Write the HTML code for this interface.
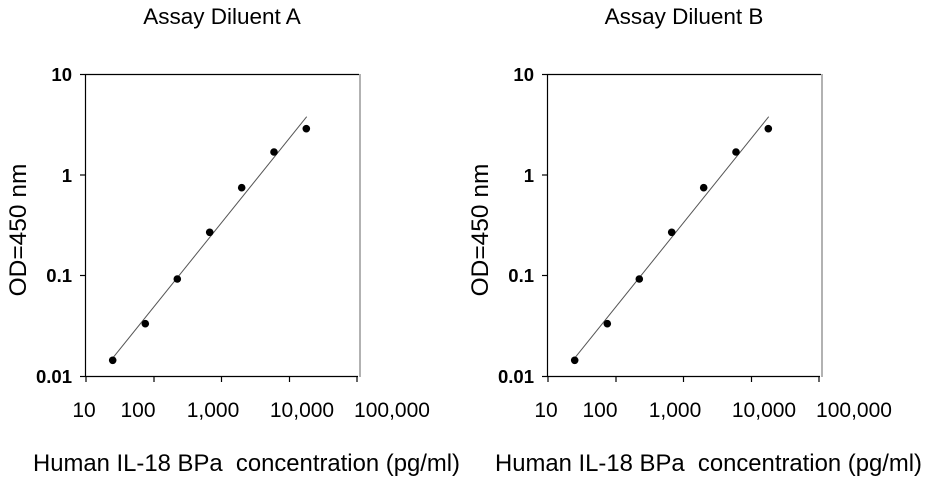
<!DOCTYPE html>
<html><head><style>body{margin:0;background:#fff}svg{display:block}text{font-family:"Liberation Sans",Arial,sans-serif;fill:#000}</style></head>
<body>
<svg width="926" height="480" viewBox="0 0 926 480" xmlns="http://www.w3.org/2000/svg">
<g id="A">
  <text x="222" y="24" font-size="22.5" text-anchor="middle">Assay Diluent A</text>
  <line x1="360" y1="74" x2="360" y2="377" stroke="#999" stroke-width="1.5"/>
  <line x1="85" y1="74.5" x2="359" y2="74.5" stroke="#000" stroke-width="1.2"/>
  <line x1="85.5" y1="74" x2="85.5" y2="377" stroke="#000" stroke-width="1.2"/>
  <line x1="85" y1="376.5" x2="358" y2="376.5" stroke="#000" stroke-width="1.2"/>
  <g stroke="#000" stroke-width="1.2">
    <line x1="80" y1="74.5" x2="85" y2="74.5"/><line x1="80" y1="175" x2="85" y2="175"/>
    <line x1="80" y1="275.5" x2="85" y2="275.5"/><line x1="80" y1="376.5" x2="85" y2="376.5"/>
    <line x1="86" y1="376" x2="86" y2="382"/><line x1="154" y1="376" x2="154" y2="382"/>
    <line x1="221.5" y1="376" x2="221.5" y2="382"/><line x1="289.5" y1="376" x2="289.5" y2="382"/>
    <line x1="357" y1="376" x2="357" y2="382"/>
  </g>
  <g font-size="18.5" font-weight="bold" text-anchor="end">
    <text x="72" y="81">10</text><text x="72" y="182">1</text>
    <text x="72" y="282">0.1</text><text x="72" y="383">0.01</text>
  </g>
  <g font-size="21" text-anchor="middle">
    <text x="84" y="417">10</text><text x="138" y="417">100</text><text x="213" y="417">1,000</text>
    <text x="302" y="417">10,000</text><text x="392" y="417">100,000</text>
  </g>
  <text x="33" y="471" font-size="24" textLength="427" lengthAdjust="spacingAndGlyphs" xml:space="preserve">Human IL-18 BPa  concentration (pg/ml)</text>
  <text transform="translate(26,230) rotate(-90)" font-size="24.5" text-anchor="middle">OD=450 nm</text>
  <line x1="113" y1="357.7" x2="306.7" y2="116.7" stroke="#555" stroke-width="1"/>
  <g fill="#000">
    <circle cx="112.7" cy="360.3" r="3.8"/><circle cx="145.3" cy="323.7" r="3.8"/>
    <circle cx="177.3" cy="279" r="3.8"/><circle cx="209.7" cy="232.3" r="3.8"/>
    <circle cx="241.7" cy="187.7" r="3.8"/><circle cx="274" cy="152" r="3.8"/>
    <circle cx="306.3" cy="128.7" r="3.8"/>
  </g>
</g>
<g transform="translate(462,0)">
  <text x="222" y="24" font-size="22.5" text-anchor="middle">Assay Diluent B</text>
  <line x1="360" y1="74" x2="360" y2="377" stroke="#999" stroke-width="1.5"/>
  <line x1="85" y1="74.5" x2="359" y2="74.5" stroke="#000" stroke-width="1.2"/>
  <line x1="85.5" y1="74" x2="85.5" y2="377" stroke="#000" stroke-width="1.2"/>
  <line x1="85" y1="376.5" x2="358" y2="376.5" stroke="#000" stroke-width="1.2"/>
  <g stroke="#000" stroke-width="1.2">
    <line x1="80" y1="74.5" x2="85" y2="74.5"/><line x1="80" y1="175" x2="85" y2="175"/>
    <line x1="80" y1="275.5" x2="85" y2="275.5"/><line x1="80" y1="376.5" x2="85" y2="376.5"/>
    <line x1="86" y1="376" x2="86" y2="382"/><line x1="154" y1="376" x2="154" y2="382"/>
    <line x1="221.5" y1="376" x2="221.5" y2="382"/><line x1="289.5" y1="376" x2="289.5" y2="382"/>
    <line x1="357" y1="376" x2="357" y2="382"/>
  </g>
  <g font-size="18.5" font-weight="bold" text-anchor="end">
    <text x="72" y="81">10</text><text x="72" y="182">1</text>
    <text x="72" y="282">0.1</text><text x="72" y="383">0.01</text>
  </g>
  <g font-size="21" text-anchor="middle">
    <text x="84" y="417">10</text><text x="138" y="417">100</text><text x="213" y="417">1,000</text>
    <text x="302" y="417">10,000</text><text x="392" y="417">100,000</text>
  </g>
  <text x="33" y="471" font-size="24" textLength="427" lengthAdjust="spacingAndGlyphs" xml:space="preserve">Human IL-18 BPa  concentration (pg/ml)</text>
  <text transform="translate(26,230) rotate(-90)" font-size="24.5" text-anchor="middle">OD=450 nm</text>
  <line x1="113" y1="357.7" x2="306.7" y2="116.7" stroke="#555" stroke-width="1"/>
  <g fill="#000">
    <circle cx="112.7" cy="360.3" r="3.8"/><circle cx="145.3" cy="323.7" r="3.8"/>
    <circle cx="177.3" cy="279" r="3.8"/><circle cx="209.7" cy="232.3" r="3.8"/>
    <circle cx="241.7" cy="187.7" r="3.8"/><circle cx="274" cy="152" r="3.8"/>
    <circle cx="306.3" cy="128.7" r="3.8"/>
  </g>
</g>
</svg>
</body></html>
